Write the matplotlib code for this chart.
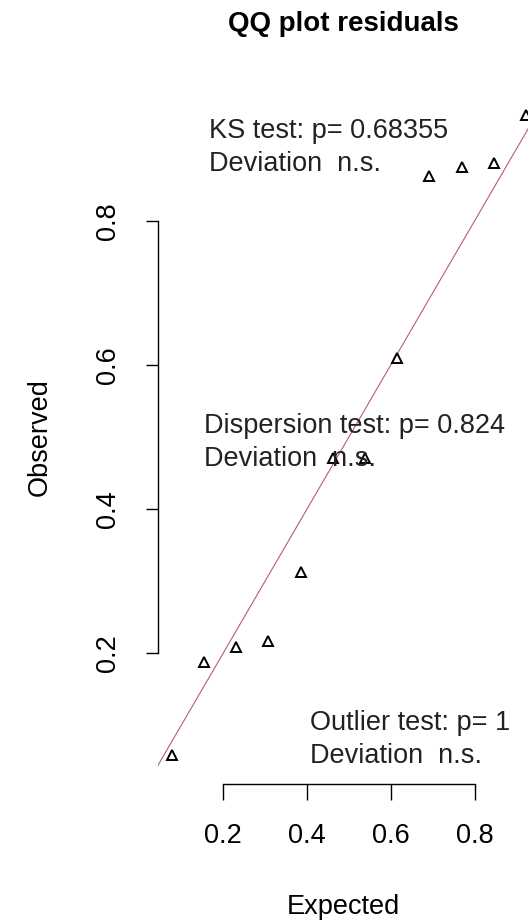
import numpy as np
import matplotlib
matplotlib.use("Agg")
import matplotlib.pyplot as plt

# --- DATA ---
expected = np.arange(1, 13) / 13
observed = [0.058, 0.188, 0.208, 0.217, 0.312, 0.471, 0.471, 0.610, 0.862, 0.875, 0.880, 0.947]
xticks = [0.2, 0.4, 0.6, 0.8]
yticks = [0.2, 0.4, 0.6, 0.8]
tests = [
    ("KS test: p= 0.68355", "Deviation  n.s."),
    ("Dispersion test: p= 0.824", "Deviation  n.s."),
    ("Outlier test: p= 1", "Deviation  n.s."),
]

# --- SETTINGS ---
plt.rcParams["font.family"] = ["Liberation Sans", "DejaVu Sans"]
W, H = 528, 923
fs = 19.5

# pixel scale of the reference (0.2 -> 223.3 px on x, 0.8 -> 221 px on y)
x_ref, x_scale = 223.3, 418.7
y_ref, y_scale = 221.0, 720.0
left_px, right_px, top_px, bottom_px = 157.6, 530.0, 89.6, 784.0


def fx(px):
    return px / W


def fy(py):
    return 1 - py / H


fig = plt.figure(figsize=(W / 100, H / 100), dpi=100)
ax = fig.add_axes([fx(left_px), fy(bottom_px), (right_px - left_px) / W, (bottom_px - top_px) / H])

ax.set_xlim(0.2 + (left_px - x_ref) / x_scale, 0.2 + (right_px - x_ref) / x_scale)
ax.set_ylim(0.8 - (bottom_px - y_ref) / y_scale, 0.8 + (y_ref - top_px) / y_scale)

# --- DRAW ---
ax.plot([0, 1], [0, 1], color="#b85c6e", lw=0.8, zorder=1)
ax.plot(expected, observed, linestyle="none", marker="^", ms=7.0,
        mfc="none", mec="black", mew=1.4, zorder=2)

for side in ["top", "right"]:
    ax.spines[side].set_visible(False)
ax.spines["left"].set_bounds(0.2, 0.8)
ax.spines["bottom"].set_bounds(0.2, 0.8)
for side in ["left", "bottom"]:
    ax.spines[side].set_linewidth(1.0)

ax.set_xticks(xticks)
ax.set_xticklabels([f"{v:.1f}" for v in xticks])
ax.set_yticks(yticks)
ax.set_yticklabels([f"{v:.1f}" for v in yticks], rotation=90, va="center")
ax.tick_params(axis="x", length=11.5, width=1.0, pad=16.5, labelsize=fs)
ax.tick_params(axis="y", length=8.6, width=1.0, pad=18, labelsize=fs)

# --- TEXT ---
text_pos = [(209, 138), (204, 433), (310, 730)]
line_gap = 33
for (l1, l2), (tx, ty) in zip(tests, text_pos):
    fig.text(fx(tx), fy(ty), l1, ha="left", va="baseline", fontsize=fs, color="#222222")
    fig.text(fx(tx), fy(ty + line_gap), l2, ha="left", va="baseline", fontsize=fs, color="#222222")

cx = (left_px + right_px) / 2
fig.text(fx(cx), fy(31), "QQ plot residuals", ha="center", va="baseline",
         fontsize=20, fontweight="bold")
fig.text(fx(cx), fy(914), "Expected", ha="center", va="baseline", fontsize=fs)
fig.text(fx(40), fy((top_px + bottom_px) / 2), "Observed", ha="center", va="center",
         rotation=90, fontsize=fs)

fig.savefig("out.png", dpi=100, facecolor="white")
plt.close(fig)
